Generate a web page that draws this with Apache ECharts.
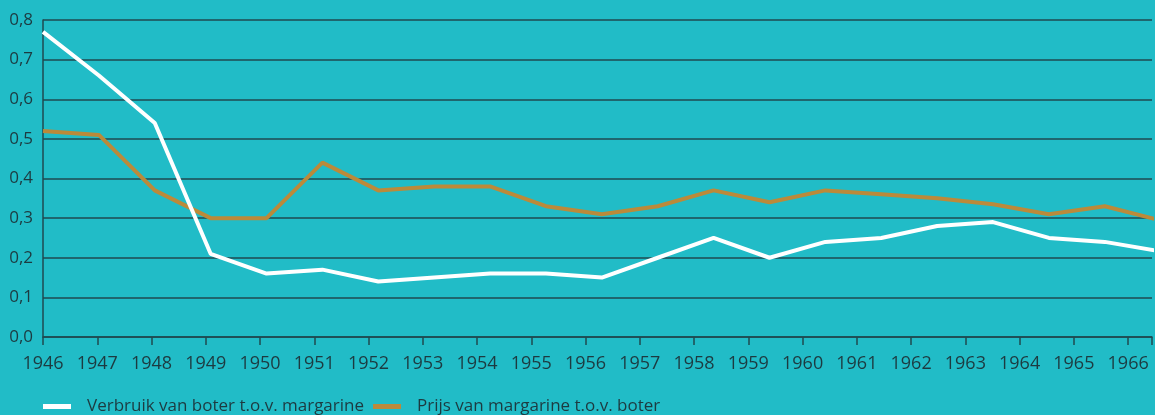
<!DOCTYPE html>
<html>
<head>
<meta charset="utf-8">
<script src="https://cdn.jsdelivr.net/npm/echarts@6/dist/echarts.min.js"></script>
<style>
	html, body { margin: 0; padding: 0; background: #21bcc7; }
	#chart { width: 1155px; height: 415px; }
</style>
</head>
<body>
<div id="chart"></div>
<script>
// jaartallen zoals ze op de as staan, punten liggen iets verschoven
var years = [1946, 1947.03, 1948.06, 1949.09, 1950.12, 1951.15, 1952.18, 1953.21, 1954.24, 1955.27,
	1956.3, 1957.33, 1958.36, 1959.39, 1960.42, 1961.45, 1962.48, 1963.51, 1964.54, 1965.57, 1966.6];
var verbruik = [0.77, 0.66, 0.54, 0.21, 0.16, 0.17, 0.14, 0.15, 0.16, 0.16,
	0.15, 0.20, 0.25, 0.20, 0.24, 0.25, 0.28, 0.29, 0.25, 0.24, 0.216];
var prijs = [0.52, 0.51, 0.37, 0.30, 0.30, 0.44, 0.37, 0.38, 0.38, 0.33,
	0.31, 0.33, 0.37, 0.34, 0.37, 0.36, 0.35, 0.335, 0.31, 0.33, 0.294];
var names = ['Verbruik van boter t.o.v. margarine', 'Prijs van margarine t.o.v. boter'];

function pairs(xs, ys) {
	var out = [];
	for(var i = 0; i < xs.length; i++) {
		out.push([xs[i], ys[i]]);
	}
	return out;
}

var textColor = '#1d3a40';
var chart = echarts.init(document.getElementById('chart'));
var option = {
	backgroundColor: '#21bcc7',
	animation: false,
	grid: {
		left: 43,
		right: 0,
		top: 20,
		bottom: 78
	},
	legend: {
		left: 38,
		top: 393,
		icon: 'rect',
		itemWidth: 28,
		itemHeight: 5,
		itemGap: 9,
		textStyle: {
			fontFamily: 'Open Sans',
			fontSize: 17,
			color: textColor,
			padding: [0, 0, 0, 11]
		},
		data: names
	},
	xAxis: {
		type: 'value',
		min: 1946,
		max: 1966.44,
		interval: 1,
		splitLine: { show: false },
		axisLine: { lineStyle: { color: '#1f4a50', width: 1.5 } },
		axisTick: { show: true, length: 8, lineStyle: { color: '#1f4a50', width: 1.5 } },
		axisLabel: {
			color: textColor,
			fontFamily: 'Open Sans',
			fontSize: 18,
			margin: 18,
			formatter: function(v) {
				return Math.abs(v - Math.round(v)) < 1e-6 ? String(Math.round(v)) : '';
			}
		}
	},
	yAxis: {
		type: 'value',
		min: 0,
		max: 0.8,
		interval: 0.1,
		axisLine: { show: true, lineStyle: { color: '#1f4a50', width: 1.5 } },
		axisTick: { show: false },
		splitLine: { lineStyle: { color: '#1f4a50', width: 1.5 } },
		axisLabel: {
			color: textColor,
			fontFamily: 'Open Sans',
			fontSize: 17,
			margin: 10,
			formatter: function(v) {
				return v.toFixed(1).replace('.', ',');
			}
		}
	},
	series: [{
		name: names[0],
		type: 'line',
		data: pairs(years, verbruik),
		symbol: 'none',
		color: '#ffffff',
		lineStyle: { width: 4, color: '#ffffff' },
		z: 3
	}, {
		name: names[1],
		type: 'line',
		data: pairs(years, prijs),
		symbol: 'none',
		color: '#bb8a3a',
		lineStyle: { width: 4, color: '#bb8a3a' },
		z: 2
	}]
};
chart.setOption(option);
</script>
</body>
</html>
